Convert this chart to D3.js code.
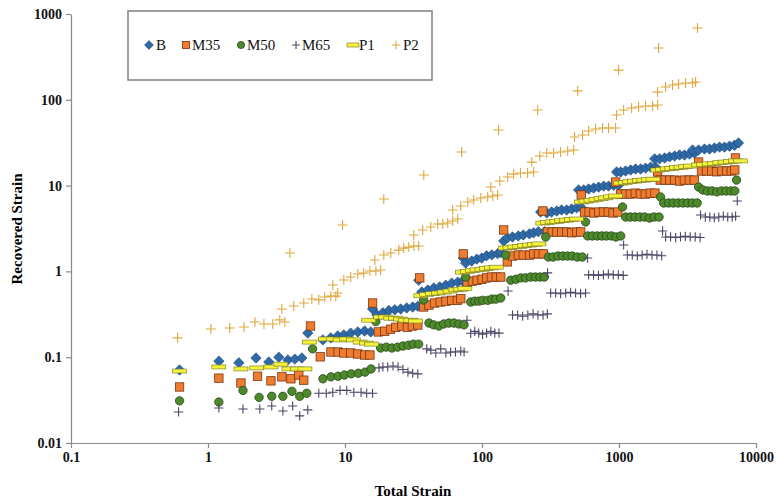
<!DOCTYPE html>
<html>
<head>
<meta charset="utf-8">
<style>
  body { margin: 0; background: #fff; }
  svg text { font-family: "Liberation Serif", "Times New Roman", serif; }
</style>
</head>
<body>
<svg id="chart" width="777" height="504"></svg>
<script src="https://cdn.jsdelivr.net/npm/d3@7/dist/d3.min.js"></script>
<script>
// axis ticks
const xTicks = [0.1, 1, 10, 100, 1000, 10000]
const xTickLabels = ["0.1", "1", "10", "100", "1000", "10000"]
const yTicks = [0.01, 0.1, 1, 10, 100, 1000]
const yTickLabels = ["0.01", "0.1", "1", "10", "100", "1000"]

const seriesNames = ["B", "M35", "M50", "M65", "P1", "P2"]

// B
const bX = [0.62,1.2,1.68,2.24,2.78,3.29,3.83,4.3,4.84,
  5.35,6.89,7.87,8.85,9.8,11.0,12.4,13.9,15.4,
  15.9,17.1,18.9,20.9,23.1,25.5,28.2,31.2,34.0,
  34.5,36.3,40.2,44.4,49.1,54.3,60.1,66.5,72.3,
  73,76,84,91.5,99.5,108,118,130,137,
  144,153,167,184,200,222,238,258,287,
  268,297,322,351,381,415,451,491,534,
  507,552,600,653,710,773,839,914,993,
  960,1028,1117,1216,1321,1438,1563,1702,1849,
  1820,1977,2153,2339,2547,2767,3006,3273,3556,
  3443,3811,4210,4581,4977,5420,5888,6412,6966,7450]
const bY = [0.071,0.090,0.086,0.098,0.088,0.100,0.093,0.095,0.098,
  0.191,0.159,0.168,0.177,0.182,0.191,0.197,0.202,0.197,
  0.365,0.31,0.33,0.35,0.357,0.365,0.375,0.384,0.393,
  0.79,0.575,0.607,0.64,0.66,0.69,0.73,0.75,0.77,
  1.43,1.25,1.32,1.39,1.43,1.52,1.56,1.61,1.66,
  2.26,2.45,2.52,2.59,2.66,2.74,2.82,2.90,2.90,
  4.92,4.8,4.92,5.05,5.2,5.2,5.33,5.5,5.5,
  8.89,8.89,9.13,9.37,9.6,9.87,9.87,10.1,10.1,
  14.4,14.4,14.8,15.2,15.6,15.6,16.0,16.4,16.4,
  20.5,20.5,21.0,21.6,22.1,22.7,22.7,23.3,23.9,
  26.0,26.0,26.7,26.7,27.4,28.1,28.1,28.8,29.5,31.4]

// M35
const m35X = [0.62,1.2,1.74,2.3,2.88,3.46,4.03,4.6,5.0,
  5.6,6.6,7.9,8.9,9.8,11.0,12.4,13.9,15.2,
  15.9,17.5,19.5,21.5,23.5,26,28.5,31,34,
  35.1,37.5,41,45,49.5,54.5,60,66,70,
  73,78,85,92,100,108,117,127,137,
  144,153,167,184,200,222,238,258,280,
  278,300,325,352,382,415,451,490,525,
  530,560,605,655,710,770,835,905,980,
  944,1030,1115,1210,1315,1430,1555,1690,1830,
  1914,2000,2170,2350,2550,2770,3000,3260,3540,
  3811,4000,4350,4750,5150,5600,6100,6600,7000,7080]
const m35Y = [0.045,0.057,0.050,0.060,0.053,0.059,0.056,0.062,0.054,
  0.231,0.101,0.115,0.115,0.112,0.112,0.109,0.106,0.106,
  0.428,0.197,0.201,0.212,0.223,0.231,0.223,0.231,0.237,
  0.84,0.385,0.405,0.428,0.44,0.45,0.46,0.46,0.48,
  1.6,0.75,0.77,0.79,0.81,0.84,0.86,0.86,0.86,
  3.04,1.29,1.51,1.55,1.55,1.55,1.6,1.6,1.6,
  5.06,2.88,2.88,2.88,2.88,2.88,2.82,2.88,2.88,
  7.77,4.92,4.92,4.8,4.92,4.92,4.92,4.8,4.92,
  11.0,7.98,7.98,7.98,8.17,7.98,7.98,8.17,8.17,
  14.4,11.6,11.6,11.6,11.6,11.3,11.6,11.6,11.6,
  18.8,14.8,14.8,14.8,14.5,14.8,14.8,14.8,15.2,21.0]

// M50
const m50X = [0.62,1.2,1.8,2.36,2.92,3.52,4.1,4.67,5.26,
  5.8,6.9,7.9,8.9,9.9,11.1,12.5,14.0,15.5,
  16.8,18.2,20,22,24.2,26.5,29,31.5,34.5,
  37.5,41,44.4,48.4,52.6,57.3,62.4,67.9,73.9,
  76,82.7,88.5,94.7,101,110,118,126,137,
  149,162,177,192,208,226,245,265,285,
  292,305,330,358,388,420,455,495,540,
  570,590,640,695,750,810,880,950,1030,
  1062,1117,1210,1310,1420,1540,1670,1800,1960,
  2010,2120,2300,2490,2700,2920,3170,3430,3720,
  3811,4090,4420,4780,5170,5590,6050,6540,7000,7210]
const m50Y = [0.031,0.030,0.041,0.034,0.035,0.035,0.040,0.035,0.038,
  0.125,0.056,0.059,0.060,0.062,0.064,0.065,0.067,0.073,
  0.26,0.128,0.131,0.128,0.131,0.135,0.138,0.142,0.142,
  0.464,0.25,0.238,0.231,0.244,0.25,0.25,0.244,0.238,
  0.86,0.44,0.45,0.45,0.46,0.46,0.475,0.475,0.49,
  1.55,0.79,0.81,0.84,0.84,0.86,0.86,0.86,0.86,
  2.52,1.47,1.47,1.51,1.51,1.51,1.51,1.47,1.47,
  3.77,2.59,2.59,2.59,2.59,2.59,2.59,2.52,2.59,
  5.63,4.3,4.3,4.3,4.3,4.3,4.2,4.3,4.3,
  7.37,6.27,6.27,6.27,6.27,6.27,6.27,6.27,6.27,
  9.63,8.89,8.66,8.66,8.46,8.66,8.66,8.66,8.66,11.6]

// M65
const m65X = [0.61,1.2,1.8,2.39,2.92,3.52,4.15,4.67,5.35,
  6.44,7.3,8.15,9.2,10.3,11.6,13.1,14.4,15.9,
  17.7,18.9,20.5,22.4,24.4,26.5,28.8,31.2,34.0,
  39.5,42.3,46,50,54.5,59,64,70,74,
  77.7,82.7,88.5,94.7,101,108,116,124,133,
  155,167,182,198,216,236,256,279,300,
  301,317,345,375,408,443,482,524,570,
  590,600,652,708,770,836,909,988,1074,
  1081,1150,1250,1360,1475,1600,1740,1890,2050,
  2080,2190,2380,2590,2810,3050,3310,3600,3910,
  3936,4270,4600,4960,5350,5770,6220,6700,7100,7300]
const m65Y = [0.023,0.0256,0.0249,0.0249,0.027,0.0236,0.027,0.0207,0.0243,
  0.038,0.038,0.039,0.041,0.041,0.039,0.039,0.038,0.038,
  0.075,0.077,0.077,0.079,0.077,0.072,0.067,0.065,0.064,
  0.125,0.121,0.112,0.125,0.112,0.115,0.115,0.118,0.115,
  0.27,0.19,0.2,0.191,0.185,0.191,0.2,0.191,0.191,
  0.59,0.31,0.31,0.30,0.31,0.32,0.31,0.31,0.32,
  0.96,0.56,0.56,0.55,0.56,0.57,0.56,0.55,0.56,
  1.43,0.91,0.91,0.90,0.91,0.93,0.91,0.91,0.90,
  2.03,1.55,1.55,1.52,1.55,1.58,1.55,1.55,1.52,
  2.96,2.52,2.52,2.48,2.52,2.56,2.52,2.52,2.48,
  4.54,4.3,4.3,4.2,4.3,4.4,4.3,4.3,4.4,6.62]

// P1
const p1X = [0.62,1.2,1.74,2.27,2.88,3.4,3.9,4.5,5.1,
  5.5,7.2,8.2,9.2,10.3,11.5,12.9,14.3,15.6,
  14.9,18.2,19.8,21.6,23.4,25.5,27.7,30.2,32.8,
  35.8,39.5,43.5,48,53,58.5,64.5,70,75,
  72,78,85,92,100,108,117,127,
  148,160,174,189,205,222,241,260,
  278,300,325,352,382,415,451,490,
  530,575,625,680,740,800,870,940,
  1030,1110,1200,1300,1410,1520,1640,1770,
  1920,2080,2250,2430,2630,2840,3070,3320,
  3811,4150,4550,4980,5450,5950,6500,7100,7700]
const p1Y = [0.069,0.077,0.073,0.075,0.077,0.083,0.073,0.073,0.073,
  0.150,0.163,0.163,0.159,0.163,0.159,0.150,0.146,0.142,
  0.27,0.294,0.294,0.285,0.285,0.278,0.27,0.27,0.264,
  0.52,0.54,0.55,0.56,0.575,0.59,0.61,0.62,0.63,
  0.98,1.0,1.02,1.04,1.06,1.08,1.1,1.12,
  1.87,1.9,1.93,1.96,2.0,2.03,2.06,2.09,
  3.66,3.72,3.78,3.84,3.9,3.96,4.02,4.08,
  6.44,6.6,6.75,6.9,7.05,7.2,7.4,7.57,
  10.7,10.9,11.1,11.3,11.5,11.6,11.8,11.9,
  15.2,15.4,15.7,15.9,16.2,16.4,16.7,16.9,
  17.4,17.6,17.9,18.2,18.5,18.8,19.1,19.4,19.4]

// P2 (main run, then the isolated upper points)
const p2X = [0.60,1.05,1.44,1.83,2.2,2.56,2.97,3.34,3.64,
  3.46,4.23,5.0,5.73,6.44,7.12,7.87,8.57,8.85,
  8.15,9.8,11.0,12.4,13.7,15.2,16.8,18.2,
  16.5,19.2,21.6,24.7,26.8,29.2,31.8,34.5,
  31.8,36.9,42.3,47.5,51.7,56.2,61.1,66.5,
  61.1,70,78.7,87,98,110,120,130,
  116,135,154,170,191,215,238,
  231,264,297,333,375,422,467,
  474,542,600,675,759,839,944,
  960,1081,1236,1390,1563,1758,1914,
  1914,2188,2460,2723,3062,3443,3622,
  3.96,9.6,19.2,37.6,71,132,255,499,993,1945,3742]
const p2Y = [0.168,0.213,0.219,0.225,0.257,0.244,0.244,0.272,0.257,
  0.365,0.395,0.428,0.477,0.466,0.503,0.515,0.515,0.56,
  0.694,0.794,0.86,0.933,0.955,1.01,1.01,1.04,
  1.36,1.55,1.64,1.77,1.87,1.92,1.98,1.98,
  2.66,3.04,3.29,3.57,3.57,3.66,3.87,4.08,
  5.2,5.78,6.44,6.79,7.16,7.36,7.57,7.77,
  9.63,11.3,12.6,13.6,14.0,14.0,14.4,
  18.8,22.1,24.0,24.0,24.6,25.3,26.0,
  36.8,38.9,43.3,45.7,46.9,46.9,46.9,
  66.5,76,80.2,82.4,84.7,84.7,86.9,
  123,141,149,153,157,157,161,
  1.64,3.47,6.98,13.3,24.6,44.5,76,127,222,402,687]

const seriesX = [bX, m35X, m50X, m65X, p1X, p2X]
const seriesY = [bY, m35Y, m50Y, m65Y, p1Y, p2Y]

let svg = d3.select("#chart")

let x = d3.scaleLog().domain([0.1, 10000]).range([71, 756])
let y = d3.scaleLog().domain([0.01, 1000]).range([443, 14])

// marker look for each series
let markers = {
  B:   {shape: "diamond", fill: "#2f6aa8", stroke: "#1c426e", s: 5.2},
  M35: {shape: "square", fill: "#ee7d31", stroke: "#7a3510", s: 4.2},
  M50: {shape: "circle", fill: "#4e8a2c", stroke: "#26461a", s: 4.2},
  M65: {shape: "plus", fill: "none", stroke: "#4a4766", s: 4.6},
  P1:  {shape: "dash", fill: "#f4f23a", stroke: "#76741f", s: 7},
  P2:  {shape: "plus", fill: "none", stroke: "#e0a73c", s: 5}
}

function drawMarker(g, m, cx, cy, k) {
  let s = m.s * (k || 1)
  if (m.shape == "diamond") {
    g.append("path").attr("d", `M${cx},${cy-s}L${cx+s},${cy}L${cx},${cy+s}L${cx-s},${cy}Z`)
      .attr("fill", m.fill).attr("stroke", m.stroke).attr("stroke-width", 0.6)
  } else if (m.shape == "square") {
    g.append("rect").attr("x", cx-s).attr("y", cy-s).attr("width", 2*s).attr("height", 2*s)
      .attr("fill", m.fill).attr("stroke", m.stroke).attr("stroke-width", 0.8)
  } else if (m.shape == "circle") {
    g.append("circle").attr("cx", cx).attr("cy", cy).attr("r", s)
      .attr("fill", m.fill).attr("stroke", m.stroke).attr("stroke-width", 0.8)
  } else if (m.shape == "plus") {
    g.append("path").attr("d", `M${cx-s},${cy}H${cx+s}M${cx},${cy-s}V${cy+s}`)
      .attr("fill", "none").attr("stroke", m.stroke).attr("stroke-width", 1.1)
  } else if (m.shape == "dash") {
    g.append("rect").attr("x", cx-s).attr("y", cy-2).attr("width", 2*s).attr("height", 4)
      .attr("fill", m.fill).attr("stroke", m.stroke).attr("stroke-width", 0.6)
  }
}

// axes
let xAxis = d3.axisBottom(x).tickValues(xTicks)
  .tickFormat((d, i) => xTickLabels[i]).tickSize(5).tickSizeOuter(0).tickPadding(4)
let yAxis = d3.axisLeft(y).tickValues(yTicks)
  .tickFormat((d, i) => yTickLabels[i]).tickSize(5).tickSizeOuter(0).tickPadding(4)

let gx = svg.append("g").attr("transform", "translate(0,443)").call(xAxis)
let gy = svg.append("g").attr("transform", "translate(71,0)").call(yAxis)
for (let g of [gx, gy]) {
  g.select(".domain").attr("stroke", "#8a8a8a").attr("stroke-width", 1.2)
  g.selectAll(".tick line").attr("stroke", "#8a8a8a").attr("stroke-width", 1.2)
  g.selectAll(".tick text").attr("fill", "#111").attr("font-size", 14)
    .attr("font-weight", "bold").attr("font-family", "Liberation Serif, serif")
}

// points
let plot = svg.append("g")
seriesNames.forEach((name, i) => {
  let g = plot.append("g").attr("class", "series-" + name)
  seriesX[i].forEach((xv, j) => drawMarker(g, markers[name], x(xv), y(seriesY[i][j])))
})

// axis titles
svg.append("text").attr("x", 413).attr("y", 496).attr("text-anchor", "middle")
  .attr("font-size", 15).attr("font-weight", "bold").text("Total Strain")
svg.append("text").attr("transform", "translate(22,229) rotate(-90)").attr("text-anchor", "middle")
  .attr("font-size", 15).attr("font-weight", "bold").text("Recovered Strain")

// legend
let legend = svg.append("g")
legend.append("rect").attr("x", 128).attr("y", 11).attr("width", 304).attr("height", 69)
  .attr("fill", "#fff").attr("stroke", "#7f7f7f").attr("stroke-width", 1.5)
const legendMarkX = [149, 186, 241, 296, 353, 396]
const legendTextX = [156, 192, 247, 302, 359, 403]
seriesNames.forEach((name, i) => {
  drawMarker(legend, markers[name], legendMarkX[i], 45, name == "P1" ? 0.85 : 0.85)
  legend.append("text").attr("x", legendTextX[i]).attr("y", 50)
    .attr("font-size", 15).attr("fill", "#111").text(name)
})
</script>
</body>
</html>
